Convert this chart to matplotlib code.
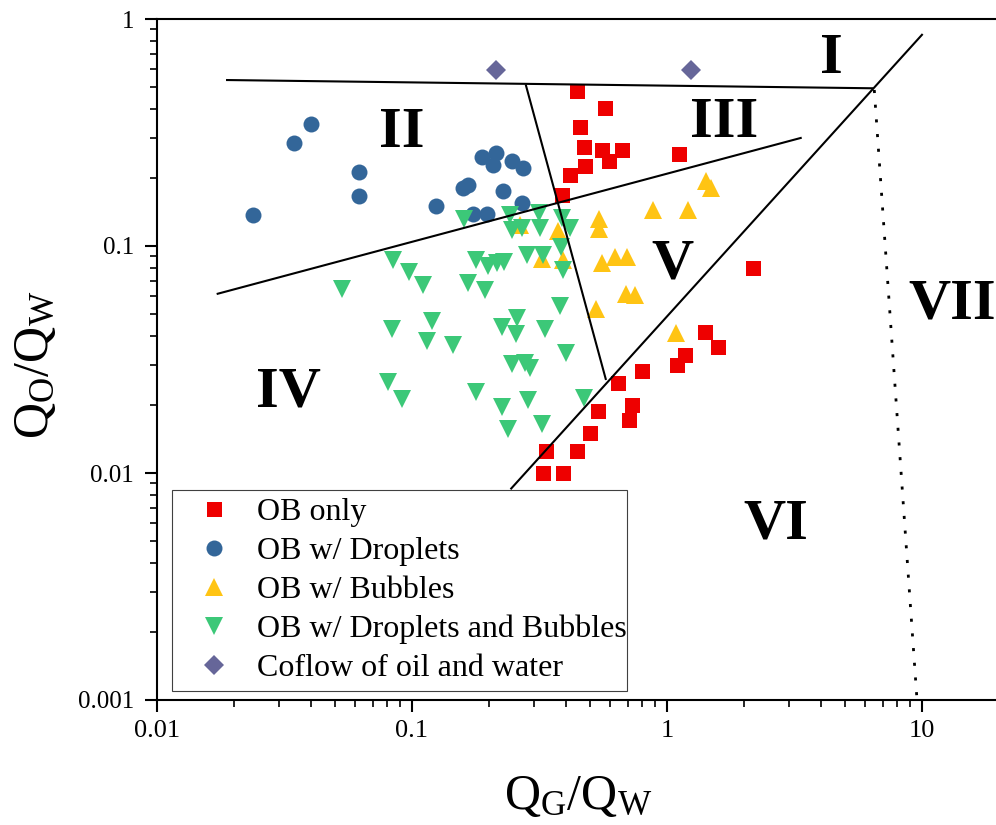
import matplotlib
matplotlib.use("Agg")
import matplotlib.pyplot as plt
from matplotlib.ticker import LogLocator, FuncFormatter, NullFormatter

plt.rcParams['font.family'] = ['Liberation Serif', 'DejaVu Serif']
plt.rcParams['mathtext.fontset'] = 'custom'
plt.rcParams['mathtext.rm'] = 'Liberation Serif'
plt.rcParams['mathtext.it'] = 'Liberation Serif:italic'

# ---- flow-regime observations: gas/water (QG/QW) and oil/water (QO/QW) ratios ----
only_qg = [0.445, 0.571, 0.456, 0.471, 0.556, 0.665, 0.594, 0.477, 0.417, 0.389,
           1.117, 2.18, 1.409, 1.585, 1.177, 1.098, 0.800, 0.644, 0.731, 0.712,
           0.538, 0.499, 0.335, 0.445, 0.325, 0.392]
only_qo = [0.482, 0.407, 0.333, 0.273, 0.265, 0.265, 0.237, 0.2245, 0.2055, 0.168,
           0.255, 0.0797, 0.0420, 0.0360, 0.0331, 0.0299, 0.0280, 0.0249, 0.0199, 0.0171,
           0.01875, 0.0150, 0.01253, 0.01253, 0.0100, 0.0100]

drop_qg = [0.0239, 0.0346, 0.0402, 0.0620, 0.0620, 0.1238, 0.159, 0.166, 0.174,
           0.196, 0.189, 0.213, 0.208, 0.247, 0.273, 0.227, 0.270]
drop_qo = [0.137, 0.2835, 0.345, 0.212, 0.166, 0.1505, 0.181, 0.186, 0.138,
           0.138, 0.2466, 0.2576, 0.2274, 0.2376, 0.2207, 0.1747, 0.1542]

bub_qg = [1.418, 1.484, 0.884, 1.206, 0.539, 0.539, 0.374, 0.265, 0.323, 0.391,
          0.556, 0.625, 0.695, 0.688, 0.752, 0.527, 1.080]
bub_qo = [0.194, 0.180, 0.1441, 0.1441, 0.1315, 0.1194, 0.1164, 0.1237, 0.0877, 0.0868,
          0.0839, 0.0897, 0.0894, 0.0616, 0.0607, 0.0529, 0.0414]

both_qg = [0.1603, 0.2422, 0.246, 0.2693, 0.3162, 0.3177, 0.3864, 0.4165, 0.3829, 0.3899,
           0.0845, 0.0976, 0.1102, 0.0533, 0.1788, 0.1978, 0.2164, 0.2289, 0.1663, 0.1933,
           0.2818, 0.3272, 0.3805, 0.0833, 0.1195, 0.1150, 0.1444, 0.2248, 0.2581, 0.2564,
           0.3332, 0.4017, 0.2460, 0.2762, 0.2895, 0.0803, 0.0916, 0.1782, 0.2264, 0.2858,
           0.4738, 0.2385, 0.3246]
both_qo = [0.1311, 0.1370, 0.1182, 0.1197, 0.1393, 0.1197, 0.1324, 0.1206, 0.0993, 0.0784,
           0.0870, 0.0767, 0.0670, 0.0647, 0.0872, 0.0816, 0.0842, 0.0850, 0.0687, 0.0640,
           0.0913, 0.0913, 0.0546, 0.0432, 0.0468, 0.0381, 0.0368, 0.0438, 0.0480, 0.0408,
           0.0432, 0.0338, 0.0302, 0.0305, 0.0289, 0.0251, 0.0211, 0.0228, 0.0196, 0.0210,
           0.0215, 0.0157, 0.0164]

coflow_qg = [0.213, 1.245]
coflow_qo = [0.594, 0.594]

# ---- regime boundaries (end points in data units) ----
bound_top_qg, bound_top_qo = [0.01865, 6.44], [0.5385, 0.4952]
bound_23_qg, bound_23_qo = [0.2792, 0.5765], [0.5145, 0.02569]
bound_mid_qg, bound_mid_qo = [0.01714, 3.375], [0.06144, 0.300]
bound_56_qg, bound_56_qo = [0.2434, 10.06], [0.008477, 0.8587]
bound_67_qg, bound_67_qo = [6.50, 9.56], [0.4867, 0.001]

region_names = ['I', 'II', 'III', 'IV', 'V', 'VI', 'VII']
region_qg = [4.40, 0.0910, 1.68, 0.0329, 1.046, 2.68, 13.1]
region_qo = [0.5766, 0.2730, 0.3030, 0.01959, 0.07228, 0.00517, 0.04817]

fig = plt.figure(figsize=(9.96, 8.25), dpi=100)
ax = fig.add_axes([157 / 996, 125 / 825, 839 / 996, 681 / 825])
ax.set_xscale('log')
ax.set_yscale('log')
ax.set_xlim(0.01, 10 ** (839 / 255 - 2))
ax.set_ylim(0.001, 1)

ax.plot(only_qg, only_qo, 's', color='#EE0000', ms=10.8, mew=0, ls='none',
        label='OB only', zorder=3)
ax.plot(drop_qg, drop_qo, 'o', color='#336699', ms=11.5, mew=0, ls='none',
        label='OB w/ Droplets', zorder=3)
ax.plot(bub_qg, bub_qo, '^', color='#FFC414', ms=13, mew=0, ls='none',
        label='OB w/ Bubbles', zorder=3)
ax.plot(both_qg, both_qo, 'v', color='#3CC878', ms=13, mew=0, ls='none',
        label='OB w/ Droplets and Bubbles', zorder=3)
ax.plot(coflow_qg, coflow_qo, 'D', color='#666699', ms=10.2, mew=0, ls='none',
        label='Coflow of oil and water', zorder=3)

for bx, by in [(bound_top_qg, bound_top_qo), (bound_23_qg, bound_23_qo),
               (bound_mid_qg, bound_mid_qo), (bound_56_qg, bound_56_qo)]:
    ax.plot(bx, by, color='black', lw=1.5, solid_capstyle='butt', zorder=4)
ax.plot(bound_67_qg, bound_67_qo, color='black', lw=2.0, ls=(0, (1.1, 4.2)), zorder=4)

for name, rx, ry in zip(region_names, region_qg, region_qo):
    ax.text(rx, ry, name, fontsize=42, fontweight='bold', ha='center', va='baseline',
            zorder=5)

# axes styling
for side in ['left', 'bottom', 'top']:
    ax.spines[side].set_linewidth(1.5)
ax.spines['right'].set_visible(False)

ax.xaxis.set_major_locator(LogLocator(base=10, numticks=10))
ax.xaxis.set_minor_locator(LogLocator(base=10, subs=range(2, 10), numticks=20))
ax.yaxis.set_major_locator(LogLocator(base=10, numticks=10))
ax.yaxis.set_minor_locator(LogLocator(base=10, subs=range(2, 10), numticks=20))
fmt = FuncFormatter(lambda v, p: f'{v:g}')
ax.xaxis.set_major_formatter(fmt)
ax.yaxis.set_major_formatter(fmt)
ax.xaxis.set_minor_formatter(NullFormatter())
ax.yaxis.set_minor_formatter(NullFormatter())

ax.tick_params(which='major', direction='out', length=8.5, width=1.5, top=False, right=False)
ax.tick_params(which='minor', direction='out', length=5, width=1.2, top=False, right=False)
ax.tick_params(axis='x', which='major', labelsize=19, pad=6)
ax.tick_params(axis='y', which='major', labelsize=18, pad=8)

ax.set_xlabel(r'$\mathrm{Q_G/Q_W}$', fontsize=36)
ax.set_ylabel(r'$\mathrm{Q_O/Q_W}$', fontsize=36)
ax.xaxis.set_label_coords(0.502, -0.108)
ax.yaxis.set_label_coords(-0.117, 0.492)

leg = ax.legend(loc='lower left', bbox_to_anchor=(0.0179, 0.0132, 0.5423, 0.2952),
                mode='expand', fontsize=23, numpoints=1, frameon=True,
                fancybox=False, framealpha=1, edgecolor='#404040',
                borderpad=0.25, labelspacing=0.3, handlelength=2.15,
                handletextpad=0.27, borderaxespad=0)
leg.get_frame().set_linewidth(0.8)
leg.set_zorder(6)

fig.savefig('out.png', dpi=100)
